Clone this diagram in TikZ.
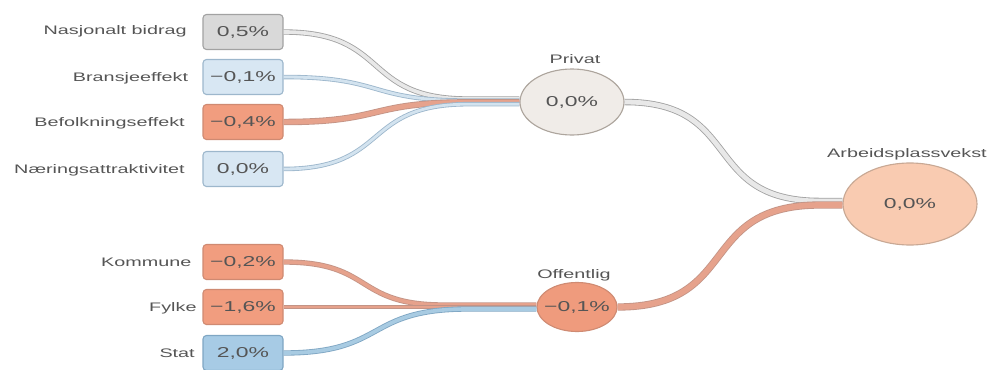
\documentclass[tikz,border=0pt]{standalone}
\usepackage{fontspec}
\setmainfont[FakeStretch=1.6]{Liberation Sans}
\usetikzlibrary{shapes.geometric}

\definecolor{txt}{HTML}{555555}
\definecolor{greyfill}{HTML}{D9D9D9}
\definecolor{greyline}{HTML}{A2A2A2}
\definecolor{bluefill}{HTML}{D8E7F3}
\definecolor{blueline}{HTML}{9DB7CC}
\definecolor{redfill}{HTML}{F19D7F}
\definecolor{redline}{HTML}{CF8A72}
\definecolor{statfill}{HTML}{A7CBE5}
\definecolor{statline}{HTML}{7FA6C3}
\definecolor{greyrib}{HTML}{E8E8E8}
\definecolor{bluerib}{HTML}{D3E3EF}
\definecolor{redrib}{HTML}{E6A28C}
\definecolor{redribline}{HTML}{C39486}
\definecolor{statrib}{HTML}{A8CBE2}
\definecolor{privfill}{HTML}{F0ECE8}
\definecolor{privline}{HTML}{ADA59D}
\definecolor{offfill}{HTML}{EF9B7D}
\definecolor{offline}{HTML}{CF8B73}
\definecolor{arbfill}{HTML}{F9CBB1}
\definecolor{arbline}{HTML}{C8A894}

\begin{document}
\begin{tikzpicture}[
  lbl/.style={anchor=base east, inner sep=0, text=txt, font=\fontsize{8.8}{10}\selectfont},
  ttl/.style={anchor=base, inner sep=0, text=txt, font=\fontsize{8.8}{10}\selectfont},
  val/.style={rectangle, rounded corners=2.5pt, line width=0.8pt, minimum width=2cm, minimum height=0.875cm, text=txt, font=\fontsize{10.2}{12}\selectfont},
  hub/.style={ellipse, line width=0.8pt, inner xsep=-2mm, inner ysep=-1mm, text=txt, font=\fontsize{10.2}{12}\selectfont},
  rib/.style={line width=0.6pt, double distance=#1},
  sbend/.style={out=0, in=180, looseness=1.4}]

\useasboundingbox (0,0) rectangle (24.725,9.225);

% bidrag, privat side
\node(lNB) at (4.675,8.36)[lbl]{Nasjonalt bidrag};
\node(lBE) at (4.71,7.1875)[lbl]{Bransjeeffekt};
\node(lBF) at (4.625,6.0625)[lbl]{Befolkningseffekt};
\node(lNA) at (4.625,4.8875)[lbl]{Næringsattraktivitet};

\node(NB) at (6.075,8.425)[val, draw=greyline, fill=greyfill]{0,5\%};
\node(BE) at (6.075,7.3)[val, draw=blueline, fill=bluefill]{−0,1\%};
\node(BF) at (6.075,6.175)[val, draw=redline, fill=redfill]{−0,4\%};
\node(NA) at (6.075,5.0)[val, draw=blueline, fill=bluefill]{0,0\%};

% bidrag, offentlig side
\node(lKO) at (4.79,2.5625)[lbl]{Kommune};
\node(lFY) at (4.92,1.4375)[lbl]{Fylke};
\node(lST) at (4.875,0.2875)[lbl]{Stat};

\node(KO) at (6.075,2.675)[val, draw=redline, fill=redfill]{−0,2\%};
\node(FY) at (6.075,1.55)[val, draw=redline, fill=redfill]{−1,6\%};
\node(ST) at (6.075,0.4)[val, draw=statline, fill=statfill]{2,0\%};

% summer
\node(tPR) at (14.375,7.65)[ttl]{Privat};
\node(PR) at (14.3,6.675)[hub, minimum width=2.6cm, minimum height=1.65cm, draw=privline, fill=privfill]{0,0\%};
\node(tOF) at (14.35,2.275)[ttl]{Offentlig};
\node(OF) at (14.425,1.55)[hub, minimum width=2cm, minimum height=1.225cm, draw=offline, fill=offfill]{−0,1\%};
\node(tAV) at (22.675,5.3)[ttl]{Arbeidsplassvekst};
\node(AV) at (22.75,4.125)[hub, minimum width=3.35cm, minimum height=2.05cm, draw=arbline, fill=arbfill]{0,0\%};

% strenger inn til privat
\coordinate (p1) at (11.7,6.75);
\coordinate (p2) at (11.7,6.71);
\coordinate (p3) at (11.7,6.665);
\coordinate (p4) at (11.7,6.62);
\draw[rib=2.6pt, draw=greyline, double=greyrib](NB.east) to[sbend] (p1) -- (PR.west |- p1);
\draw[rib=2pt, draw=blueline, double=bluerib](BE.east) to[sbend] (p2) -- (PR.west |- p2);
\draw[rib=3.4pt, draw=redribline, double=redrib](BF.east) to[sbend] (p3) -- (PR.west |- p3);
\draw[rib=2pt, draw=blueline, double=bluerib](NA.east) to[sbend] (p4) -- (PR.west |- p4);

% strenger inn til offentlig
\coordinate (o1) at (11.1,1.6);
\coordinate (o2) at (11.1,1.55);
\coordinate (o3) at (11.7,1.5);
\draw[rib=2.6pt, draw=redribline, double=redrib](KO.east) to[sbend] (o1) -- (OF.west |- o1);
\draw[rib=2pt, draw=redribline, double=redrib](FY.east) -- (o2) -- (OF.west |- o2);
\draw[rib=2.6pt, draw=statline, double=statrib](ST.east) to[sbend] (o3) -- (OF.west |- o3);

% videre til arbeidsplassvekst
\coordinate (a1) at (20.5,4.2);
\coordinate (a2) at (20.5,4.1);
\draw[rib=3.4pt, draw=greyline, double=greyrib](PR.east) to[sbend] (a1) -- (AV.west |- a1);
\draw[rib=4pt, draw=redribline, double=redrib](OF.east) to[sbend] (a2) -- (AV.west |- a2);

\end{tikzpicture}
\end{document}
